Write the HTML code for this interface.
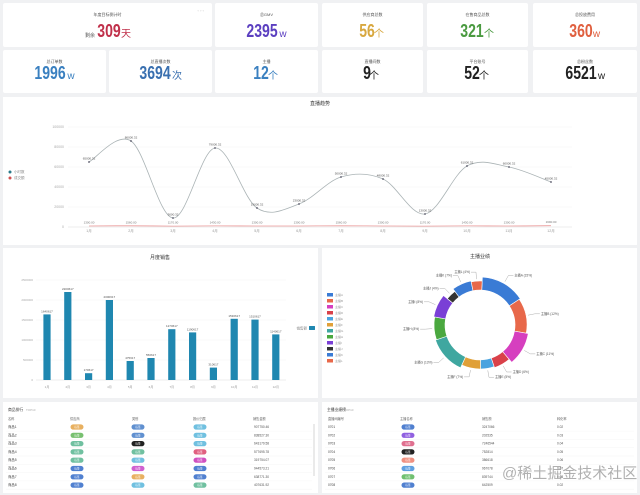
<!DOCTYPE html>
<html><head><meta charset="utf-8">
<style>
*{margin:0;padding:0;box-sizing:border-box}
body{width:640px;height:495px;background:#f0f1f3;font-family:"Liberation Sans","Noto Sans CJK SC",sans-serif;position:relative;overflow:hidden}
.card{position:absolute;background:#fff;border-radius:2px}
.ct{position:absolute;left:0;right:0;top:9px;text-align:center;font-size:4px;color:#555}
.cv{position:absolute;left:0;right:0;text-align:center;font-weight:bold;font-size:18px;line-height:18px}
.cv span.n{display:inline-block;transform:scaleX(.78);transform-origin:center;margin:0 -4px}
.cv small{font-size:10px;font-weight:normal;margin-left:1px}
.panel{position:absolute;background:#fff}
svg text{font-family:"Liberation Sans","Noto Sans CJK SC",sans-serif}
</style></head><body>
<div class="card" style="left:3px;top:3px;width:209px;height:44px">
<div class="ct">年度目标倒计时</div><div style="position:absolute;right:8px;top:5px;font-size:4px;color:#aaa">◦ ◦ ◦</div>
<div class="cv" style="top:19px;color:#c0304a"><small style="font-size:5px;color:#555;margin-right:3px">剩余</small><span class="n">309</span><small>天</small></div></div>
<div class="card" style="left:215px;top:3px;width:103px;height:44px"><div class="ct">总GMV</div><div class="cv" style="top:19px;color:#5b3fc0"><span class="n">2395</span><small>w</small></div></div>
<div class="card" style="left:322px;top:3px;width:101px;height:44px"><div class="ct">供应商总数</div><div class="cv" style="top:19px;color:#d8a840"><span class="n">56</span><small>个</small></div></div>
<div class="card" style="left:427px;top:3px;width:101px;height:44px"><div class="ct">在售商品总数</div><div class="cv" style="top:19px;color:#4a9a40"><span class="n">321</span><small>个</small></div></div>
<div class="card" style="left:533px;top:3px;width:104px;height:44px"><div class="ct">总投放费用</div><div class="cv" style="top:19px;color:#e06040"><span class="n">360</span><small>w</small></div></div>
<div class="card" style="left:3px;top:50px;width:103px;height:43px"><div class="ct">总订单数</div><div class="cv" style="top:14px;color:#3a80c0"><span class="n">1996</span><small>w</small></div></div>
<div class="card" style="left:109px;top:50px;width:103px;height:43px"><div class="ct">总直播次数</div><div class="cv" style="top:14px;color:#3a70b0"><span class="n">3694</span><small>次</small></div></div>
<div class="card" style="left:215px;top:50px;width:103px;height:43px"><div class="ct">主播</div><div class="cv" style="top:14px;color:#3a80c0"><span class="n">12</span><small>个</small></div></div>
<div class="card" style="left:322px;top:50px;width:101px;height:43px"><div class="ct">直播间数</div><div class="cv" style="top:14px;color:#222"><span class="n">9</span><small>个</small></div></div>
<div class="card" style="left:427px;top:50px;width:101px;height:43px"><div class="ct">平台账号</div><div class="cv" style="top:14px;color:#222"><span class="n">52</span><small>个</small></div></div>
<div class="card" style="left:533px;top:50px;width:104px;height:43px"><div class="ct">总粉丝数</div><div class="cv" style="top:14px;color:#222"><span class="n">6521</span><small>w</small></div></div>

<div class="panel" style="left:3px;top:97px;width:634px;height:148px"></div>
<div class="panel" style="left:3px;top:248px;width:315px;height:150px"></div>
<div class="panel" style="left:322px;top:248px;width:315px;height:150px"></div>
<div class="panel" style="left:3px;top:402px;width:315px;height:91px"></div>
<div class="panel" style="left:322px;top:402px;width:315px;height:91px"></div>

<svg id="chart" width="640" height="495" style="position:absolute;left:0;top:0"></svg>
<div style="position:absolute;left:502px;top:462px;font-size:15px;color:rgba(150,150,150,.75)">@稀土掘金技术社区</div>

<script>
const months=["1月","2月","3月","4月","5月","6月","7月","8月","9月","10月","11月","12月"];
const liveValues=[65000,86000,9000,79000,19000,23000,50000,48000,13000,61000,60000,45000];
const liveValues2=[1000,1200,900,1100,1000,1000,1200,1000,900,1100,1000,1300];
const liveTicks=[0,20000,40000,60000,80000,100000];
const barValues=[1640000,2200000,170000,2000000,475000,550000,1270000,1190000,310000,1530000,1510000,1140000];
const barTicks=[0,500000,1000000,1500000,2000000,2500000];
const pieNames=["主播A","主播B","主播C","主播D","主播E","主播F","主播G","主播H","主播I","主播J","主播K","主播L"];
const pieValues=[15,12,11,6,5,7,13,8,8,4,7,4];
const pieRadius=[48,47,49,45,44,44,47,46,47,42,45,44];
const pieColors=["#3a7bd5","#e8684a","#d63fbf","#d9414a","#4aa3df","#e0a038","#3fa7a0","#4aa83f","#7a3fd6","#333","#3a7bd5","#e8684a"];
const leftRows=["商品1","商品2","商品3","商品4","商品5","商品6","商品7","商品8"];
const leftNums=["907750.46","838527.30","643179.58","577695.78","319754.07","944573.21","638771.30","407631.92"];
const rightRows=["0701","0702","0703","0704","0705","0706","0707","0708"];
const rightNums=["3247066","202535","7246544","752814","386618","967078","839744","642509"];

const S=document.getElementById('chart'),NS="http://www.w3.org/2000/svg";
function el(t,a,txt){const e=document.createElementNS(NS,t);for(const k in a)e.setAttribute(k,a[k]);if(txt!==undefined)e.textContent=txt;S.appendChild(e);return e;}
function tx(x,y,s,o){return el('text',Object.assign({x:x,y:y,'font-size':4,fill:'#666','text-anchor':'middle'},o||{}),s);}

const lx=i=>89+i*42, ly=v=>227-v/1000;
let e=tx(320,105,"直播趋势",{'font-size':5,fill:'#333'});


liveTicks.forEach(t=>{const g=el('line',{x1:68,x2:572,y1:ly(t),y2:ly(t),stroke:t?'#f2f2f2':'#ddd','stroke-width':.6});


tx(64,ly(t)+1,String(t),{'text-anchor':'end','font-size':3.5,fill:'#aaa'});});
months.forEach((m,i)=>{const t=tx(lx(i),232,m,{'font-size':3.5,fill:'#999'});

});
function smooth(vals){let p=vals.map((v,i)=>[lx(i),ly(v)]);let d="M"+p[0];for(let i=0;i<p.length-1;i++){const p0=p[i-1]||p[i],p1=p[i],p2=p[i+1],p3=p[i+2]||p2;
d+=" C"+(p1[0]+(p2[0]-p0[0])/6)+","+(p1[1]+(p2[1]-p0[1])/6)+" "+(p2[0]-(p3[0]-p1[0])/6)+","+(p2[1]-(p3[1]-p1[1])/6)+" "+p2[0]+","+p2[1];}return d;}
e=el('path',{d:smooth(liveValues),fill:'none',stroke:'#aab3b5','stroke-width':.8});


e=el('path',{d:smooth(liveValues2),fill:'none',stroke:'#eb9a9a','stroke-width':.8});


liveValues.forEach((v,i)=>{const c=el('circle',{cx:lx(i),cy:ly(v),r:.9,fill:'#556'});


tx(lx(i),ly(v)-2.5,(v+0.32).toFixed(2),{'font-size':3,fill:'#555'});
tx(lx(i),ly(liveValues2[i])-2.5,(liveValues2[i]*1.3).toFixed(2),{'font-size':3,fill:'#777'});});
[["#2a7a8a","小时数",172],["#d05050","成交额",178]].forEach(l=>{const c=el('circle',{cx:10,cy:l[2],r:1.5,fill:l[0]});


tx(14,l[2]+1.2,l[1],{'text-anchor':'start','font-size':3.5,fill:'#888'});});

const bx=i=>47+i*20.8, by=v=>380-v/25000;
e=tx(160,259,"月度销售",{'font-size':5,fill:'#333'});


barTicks.forEach(t=>{el('line',{x1:36,x2:286,y1:by(t),y2:by(t),stroke:t?'#f2f2f2':'#ddd','stroke-width':.6});tx(33,by(t)+1,String(t),{'text-anchor':'end','font-size':3,fill:'#aaa'});});
barValues.forEach((v,i)=>{const r=el('rect',{x:bx(i)-3.6,y:by(v),width:7.2,height:380-by(v),fill:'#1f87b0'});


tx(bx(i),by(v)-2,(v+617).toString(),{'font-size':3,fill:'#555'});tx(bx(i),388,months[i],{'font-size':3,fill:'#999'});});
e=el('rect',{x:309,y:326,width:6,height:4,fill:'#1f87b0',rx:.5});


tx(307,329.5,"销售额",{'text-anchor':'end','font-size':3.5,fill:'#888'});

const cx=480,cy=325,rin=35;
e=tx(480,258,"主播业绩",{'font-size':5,fill:'#333'});


const tot=pieValues.reduce((a,b)=>a+b,0);let ang=-Math.PI/2+0.05;
pieValues.forEach((v,i)=>{const a0=ang,a1=ang+v/tot*2*Math.PI;ang=a1;const R=pieRadius[i];
const P=(r,a)=>[cx+r*Math.cos(a),cy+r*Math.sin(a)];const lg=a1-a0>Math.PI?1:0;
const[p1,p2,p3,p4]=[P(R,a0),P(R,a1),P(rin,a1),P(rin,a0)];
const s=el('path',{d:`M${p1}A${R},${R} 0 ${lg} 1 ${p2}L${p3}A${rin},${rin} 0 ${lg} 0 ${p4}Z`,fill:pieColors[i],stroke:'#fff','stroke-width':.6});


const am=(a0+a1)/2,q=P(R+2,am),q2=P(R+9,am),right=Math.cos(am)>=0,q3=[q2[0]+(right?5:-5),q2[1]];
el('polyline',{points:`${q} ${q2} ${q3}`,fill:'none',stroke:'#999','stroke-width':.4});
tx(q3[0]+(right?1:-1),q3[1]+1,pieNames[i]+" ("+v+"%)",{'text-anchor':right?'start':'end','font-size':3.2,fill:'#555'});
const lgd=el('rect',{x:327,y:293+i*6,width:6,height:3.5,fill:pieColors[i]});


tx(335,296+i*6,pieNames[i],{'text-anchor':'start','font-size':3,fill:'#999'});});

function pill(x,y,c,name){const p=el('rect',{x:x-6.5,y:y-2.6,width:13,height:5.2,rx:2.6,fill:c});


tx(x,y+1,"标签",{'font-size':2.6,fill:'#fff'});}
const rowY=i=>427+i*8.3;
tx(8,411,"商品排行",{'text-anchor':'start','font-size':3.8,fill:'#333'});tx(26,411,"TOP10",{'text-anchor':'start','font-size':3,fill:'#aaa'});
["名称","供应商","类别","报价归属","销售金额"].forEach((h,j)=>tx([8,70,132,193,253][j],420,h,{'text-anchor':'start','font-size':3.2,fill:'#666'}));
el('line',{x1:314,x2:314,y1:424,y2:476,stroke:'#ccc','stroke-width':.8});
const c1=["#e8b060","#78c070","#70c0a0","#70c0a0","#70c0a0","#5080d0","#5080d0","#5080d0"],
c2=["#6090d0","#6090d0","#222","#70c0a0","#70c0e0","#d060d0","#e8b060","#70c0e0"],
c3=["#70c0e0","#70c0e0","#70c0e0","#e06080","#d050c0","#5080d0","#5080d0","#70c0a0"];
leftRows.forEach((r,i)=>{const y=rowY(i);const t=tx(8,y+1,r,{'text-anchor':'start','font-size':3.4,fill:'#444'});


pill(77,y,c1[i],'supplier-tag');pill(138,y,c2[i],'category-tag');pill(200,y,c3[i],'price-tag');tx(254,y+1,leftNums[i],{'text-anchor':'start','font-size':3.2,fill:'#555'});
el('line',{x1:6,x2:312,y1:y+4.1,y2:y+4.1,stroke:'#f2f2f2','stroke-width':.4});});
tx(327,411,"主播业绩榜",{'text-anchor':'start','font-size':3.8,fill:'#333'});tx(344,411,"TOP10",{'text-anchor':'start','font-size':3,fill:'#aaa'});
["直播间编号","主播名称","销售额","转化率"].forEach((h,j)=>tx([328,400,482,557][j],420,h,{'text-anchor':'start','font-size':3.2,fill:'#666'}));
const c4=["#5080d0","#9060e0","#e07090","#222","#f09080","#60a0e0","#70c070","#5080d0"];
rightRows.forEach((r,i)=>{const y=rowY(i);const t=tx(328,y+1,r,{'text-anchor':'start','font-size':3.2,fill:'#444'});


pill(408,y,c4[i],'anchor-tag');tx(482,y+1,rightNums[i],{'text-anchor':'start','font-size':3.2,fill:'#555'});tx(557,y+1,"0.0"+(2+i%7),{'text-anchor':'start','font-size':3.2,fill:'#555'});
el('line',{x1:325,x2:634,y1:y+4.1,y2:y+4.1,stroke:'#f2f2f2','stroke-width':.4});});
</script>
</body></html>
